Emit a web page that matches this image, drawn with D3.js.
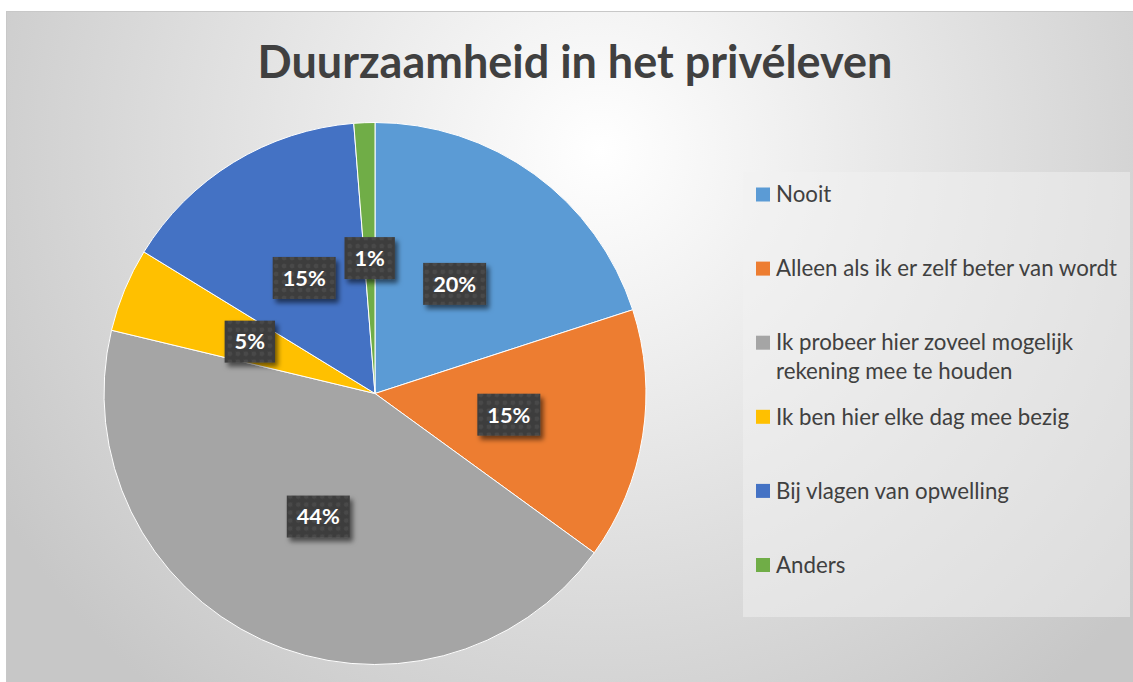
<!DOCTYPE html>
<html><head><meta charset="utf-8">
<script src="https://cdn.jsdelivr.net/npm/d3@7"></script>
<style>html,body{margin:0;padding:0;background:#fff;}svg{display:block;}</style>
</head><body>
<svg id="chart" width="1133" height="682"></svg>
<script>
const title = "Duurzaamheid in het privéleven";
const categories = ["Nooit", "Alleen als ik er zelf beter van wordt", "Ik probeer hier zoveel mogelijk rekening mee te houden", "Ik ben hier elke dag mee bezig", "Bij vlagen van opwelling", "Anders"];
const legendLines = [["Nooit"], ["Alleen als ik er zelf beter van wordt"], ["Ik probeer hier zoveel mogelijk", "rekening mee te houden"], ["Ik ben hier elke dag mee bezig"], ["Bij vlagen van opwelling"], ["Anders"]];
const counts = [16, 12, 35, 4, 12, 1];
const colors = ["#5B9BD5", "#ED7D31", "#A5A5A5", "#FFC000", "#4472C4", "#70AD47"];

const svg = d3.select("#chart");
const W = 1133, H = 682;
const defs = svg.append("defs");

const bg = defs.append("radialGradient").attr("id", "bg").attr("gradientUnits", "userSpaceOnUse")
  .attr("cx", 600).attr("cy", 150).attr("r", 700);
bg.append("stop").attr("offset", 0).attr("stop-color", "#ffffff");
bg.append("stop").attr("offset", 1).attr("stop-color", "#c7c7c7");

const pat = defs.append("pattern").attr("id", "dots").attr("patternUnits", "userSpaceOnUse")
  .attr("width", 8).attr("height", 8);
pat.append("rect").attr("width", 8).attr("height", 8).attr("fill", "#3e3e3e");
pat.append("circle").attr("cx", 4).attr("cy", 4).attr("r", 2.2).attr("fill", "#4a4a4a");

const sh = defs.append("filter").attr("id", "shadow").attr("x", "-30%").attr("y", "-30%").attr("width", "160%").attr("height", "170%");
sh.append("feDropShadow").attr("dx", 3).attr("dy", 4).attr("stdDeviation", 2.5).attr("flood-color", "#000").attr("flood-opacity", 0.55);

// chart area
svg.append("rect").attr("x", 6.5).attr("y", 11.5).attr("width", W).attr("height", H)
  .attr("fill", "url(#bg)").attr("stroke", "#c8c8c8").attr("stroke-width", 1);

const FONT = "Lato, 'Open Sans', sans-serif";
function fitSize(text, weight, targetW) {
  const t = svg.append("text").attr("font-family", FONT).attr("font-weight", weight)
    .attr("font-size", 100).text(text);
  const w = t.node().getComputedTextLength();
  t.remove();
  return 100 * targetW / w;
}

// title
svg.append("text").attr("x", 575).attr("y", 78).attr("text-anchor", "middle")
  .attr("font-family", FONT).attr("font-weight", "bold")
  .attr("font-size", fitSize(title, "bold", 635)).attr("fill", "#404040").text(title);

// pie
const cx = 375, cy = 393.5, R = 271;
const total = d3.sum(counts);
const pie = d3.pie().sort(null).value(d => d);
const arcs = pie(counts);
const arc = d3.arc().innerRadius(0).outerRadius(R);
const labelArc = d3.arc().innerRadius(R / 2).outerRadius(R / 2);
const g = svg.append("g").attr("transform", `translate(${cx},${cy})`);
g.selectAll("path.slice").data(arcs).join("path").attr("class", "slice")
  .attr("d", arc).attr("fill", (d, i) => colors[i])
  .attr("stroke", "#ffffff").attr("stroke-width", 1);

const fmt = d3.format(".0%");
const labelSize = fitSize("44%", "bold", 43);
const lg = g.selectAll("g.lbl").data(arcs).join("g").attr("class", "lbl")
  .attr("transform", d => `translate(${labelArc.centroid(d)})`);
lg.each(function (d) {
  const sel = d3.select(this);
  const txt = fmt(d.data / total);
  const t = sel.append("text").attr("text-anchor", "middle").attr("dy", "0.36em")
    .attr("font-family", FONT).attr("font-weight", "bold").attr("font-size", labelSize)
    .attr("fill", "#ffffff").text(txt);
  const w = t.node().getComputedTextLength() + 20;
  sel.insert("rect", "text").attr("x", -w / 2).attr("y", -21).attr("width", w).attr("height", 42)
    .attr("fill", "url(#dots)").attr("filter", "url(#shadow)");
});

// legend
svg.append("rect").attr("x", 743).attr("y", 172).attr("width", 387).attr("height", 445)
  .attr("fill", "#f2f2f2").attr("opacity", 0.5);
const legSize = fitSize("Alleen als ik er zelf beter van wordt", "normal", 341);
const ly = d3.scaleLinear().domain([0, categories.length - 1]).range([194.5, 565]);
const leg = svg.append("g").selectAll("g").data(categories).join("g")
  .attr("transform", (d, i) => `translate(756,${ly(i)})`);
leg.append("rect").attr("x", 0).attr("y", -7).attr("width", 14).attr("height", 14)
  .attr("fill", (d, i) => colors[i]);
leg.append("text").attr("font-family", FONT).attr("font-size", legSize).attr("fill", "#404040")
  .each(function (d, i) {
    const t = d3.select(this);
    legendLines[i].forEach((line, j) => {
      t.append("tspan").attr("x", 20).attr("y", j * 29).attr("dy", "0.35em").text(line);
    });
  });
</script>
</body></html>
